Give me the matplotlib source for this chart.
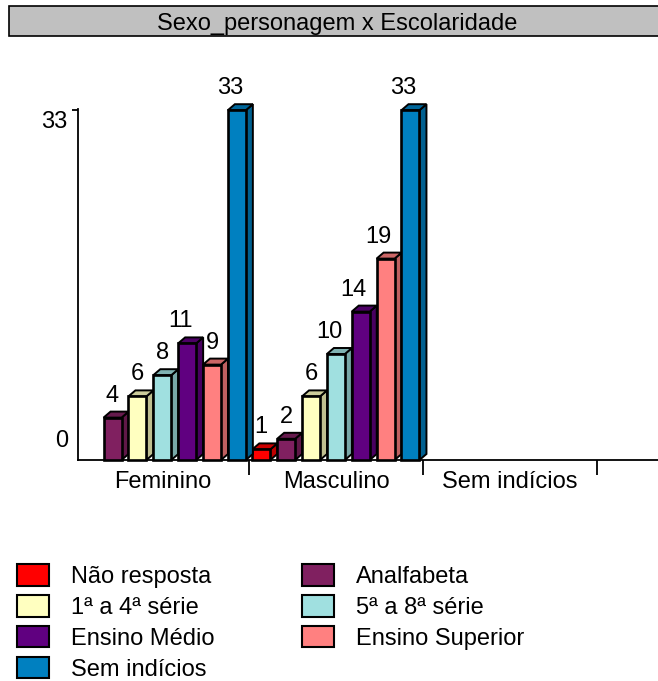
import matplotlib
matplotlib.use("Agg")
import matplotlib.pyplot as plt
from matplotlib.patches import Rectangle, Polygon
from matplotlib.colors import to_rgb

plt.rcParams["font.family"] = ["Liberation Sans", "DejaVu Sans"]

W, H = 658, 681
FS = 17

title = "Sexo_personagem x Escolaridade"
categories = ["Feminino", "Masculino", "Sem indícios"]
series_names = ["Não resposta", "Analfabeta", "1ª a 4ª série", "5ª a 8ª série",
                "Ensino Médio", "Ensino Superior", "Sem indícios"]
nao_resposta = [0, 1, 0]
analfabeta = [4, 2, 0]
serie_1a4 = [6, 6, 0]
serie_5a8 = [8, 10, 0]
ensino_medio = [11, 14, 0]
ensino_superior = [9, 19, 0]
sem_indicios = [33, 33, 0]
series_values = [nao_resposta, analfabeta, serie_1a4, serie_5a8,
                 ensino_medio, ensino_superior, sem_indicios]
colors = ["#FF0000", "#802060", "#FFFFC0", "#A0E0E0", "#600080", "#FF8080", "#0080C0"]


def shade(c, f):
    return tuple(v * f for v in to_rgb(c))


fig = plt.figure(figsize=(W / 100, H / 100), dpi=100)

# title bar
fig.add_artist(Rectangle((9 / W, 1 - 36 / H), 660 / W, 30 / H, transform=fig.transFigure,
                         facecolor="#C0C0C0", edgecolor="black", linewidth=1.2))
fig.text(337 / W, 1 - 24 / H, title, fontsize=FS, ha="center", va="center")

# axes: x = 0 is the left of first group, one unit per group, y in counts
px_x = 173.6
px_y = 10.6
left, bottom = 78, H - 460
ax = fig.add_axes([left / W, bottom / H, (W - left) / W, 362 / H])
ax.set_xlim(2.3 / px_x, 2.3 / px_x + (W - left) / px_x)
ax.set_ylim(0, 362 / px_y)
ax.patch.set_alpha(0)
for s in ["top", "right"]:
    ax.spines[s].set_visible(False)
ax.spines["left"].set_bounds(0, 33.1)
ax.spines["left"].set_linewidth(1.3)
ax.spines["bottom"].set_linewidth(1.3)

ax.set_yticks([33])
ax.set_yticklabels([])
ax.tick_params(axis="y", length=4, width=1.3)
ax.annotate("33", (0, 33), xytext=(-11, -12), textcoords="offset pixels", xycoords=("axes fraction", "data"),
            ha="right", va="center", fontsize=FS)
ax.annotate("0", (0, 0), xytext=(-10, 19), textcoords="offset pixels", xycoords=("axes fraction", "data"),
            ha="right", va="center", fontsize=FS)

ax.set_xticks([1, 2, 3])
ax.set_xticklabels([])
ax.tick_params(axis="x", which="major", length=11, width=1.3)
ax.set_xticks([0.5, 1.5, 2.5], minor=True)
ax.set_xticklabels(categories, minor=True, fontsize=FS)
ax.tick_params(axis="x", which="minor", length=0, pad=8)

bar_w = 18 / px_x
step = 24.86 / px_x
off = 3 / px_x
dx = 7 / px_x
dy = 6 / px_y

for i, vals in enumerate(series_values):
    c = colors[i]
    for k, v in enumerate(vals):
        if v == 0:
            continue
        x0 = k + off + i * step
        x1 = x0 + bar_w
        side = [(x1, 0), (x1 + dx, dy), (x1 + dx, v + dy), (x1, v)]
        top = [(x0, v), (x0 + dx, v + dy), (x1 + dx, v + dy), (x1, v)]
        ax.add_patch(Polygon(side, facecolor=shade(c, 0.75), edgecolor="black", linewidth=1.4, clip_on=False, zorder=3 + i * 0.01))
        ax.add_patch(Polygon(top, facecolor=shade(c, 0.8), edgecolor="black", linewidth=1.4, clip_on=False, zorder=3 + i * 0.01))
        ax.add_patch(Rectangle((x0, 0), bar_w, v, facecolor=c, edgecolor="black", linewidth=1.9, clip_on=False, zorder=3 + i * 0.01))
        ax.annotate(str(v), (x0 + bar_w / 2, v), xytext=(-7 if v >= 10 else 0, 22), textcoords="offset pixels",
                    ha="center", va="center", fontsize=FS, annotation_clip=False)

handles = [Rectangle((0, 0), 1, 1, facecolor=colors[i], edgecolor="black", linewidth=1.5) for i in range(7)]
# mpl fills legend by column, reference reads by row
order = [0, 2, 4, 6, 1, 3, 5]
fig.legend([handles[i] for i in order], [series_names[i] for i in order], ncol=2, frameon=False,
           loc="upper left", bbox_to_anchor=(17 / W, 1 - 564 / H), borderpad=0, borderaxespad=0,
           fontsize=FS, handlelength=1.36, handleheight=1.03, handletextpad=0.93,
           labelspacing=0.3, columnspacing=3.7)

fig.savefig("out.png", dpi=100)
